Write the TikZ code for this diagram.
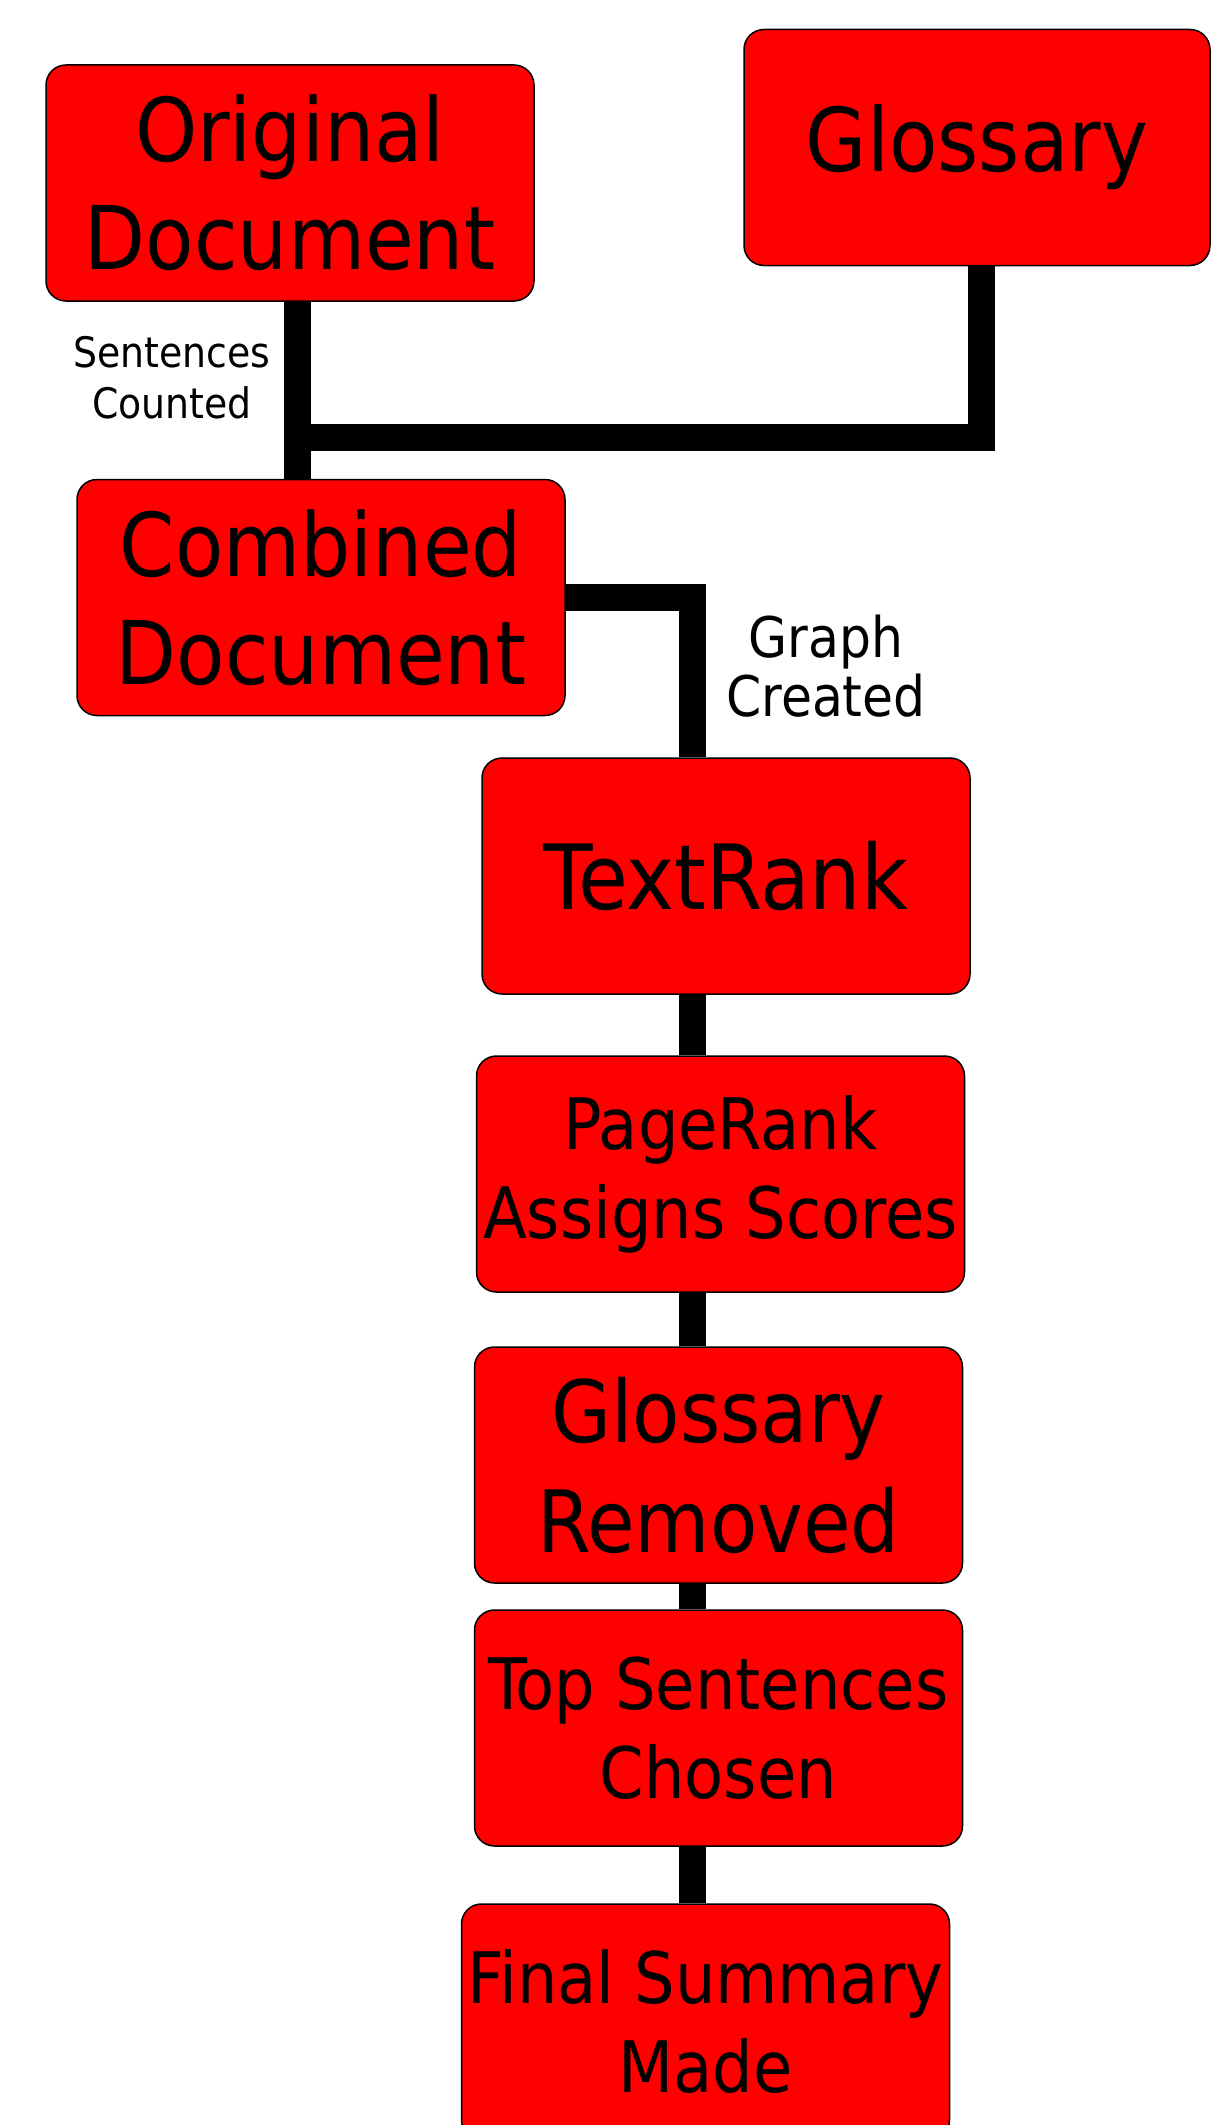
\documentclass[tikz,border=0pt]{standalone}
\usepackage{fontspec}
\setmainfont{DejaVu Sans Condensed}
\usetikzlibrary{backgrounds}
\begin{document}
\begin{tikzpicture}[x=1pt,y=-1pt,
  stage/.style={draw=black, line width=1.5pt, fill=red, rounded corners=20pt,
    minimum width=488pt, minimum height=236pt, inner sep=0pt, align=center},
  bigtext/.style={font=\fontsize{88}{108}\selectfont},
  midtext/.style={font=\fontsize{71}{89}\selectfont},
  conn/.style={draw=black, line width=27pt, line cap=butt, line join=miter},
  steplabel/.style={inner sep=0pt, align=center}]
\useasboundingbox (0,0) rectangle (1211,2125);
\clip (0,0) rectangle (1211,2125);

% process boxes
\node[stage, bigtext] (orig) at (290,183) {Original\\Document};
\node[stage, bigtext, minimum width=466pt] (gloss) at (977,147.5) {Glossary};
\node[stage, bigtext] (comb) at (321,597.5) {Combined\\Document};
\node[stage, font=\fontsize{90}{108}\selectfont] (tr) at (726,876) {TextRank};
\node[stage, midtext] (pr) at (720.5,1174) {PageRank\\Assigns Scores};
\node[stage, font=\fontsize{86}{110}\selectfont] (grem) at (718.5,1465) {Glossary\\Removed};
\node[stage, midtext] (top) at (718.5,1728) {Top Sentences\\Chosen};
\node[stage, midtext] (fin) at (705.5,2022) {Final Summary\\Made};

% connector labels
\node[steplabel, font=\fontsize{42}{51}\selectfont] (lblcount) at (172,378) {Sentences\\Counted};
\node[steplabel, font=\fontsize{56}{59}\selectfont] (lblgraph) at (826,666) {Graph\\Created};

% guide columns for the connectors
\coordinate (ox) at (297,0);
\coordinate (gx) at (981,0);
\coordinate (jn) at (297,437.5);
\coordinate (tx) at (692,0);

\begin{pgfonlayer}{background}
  \draw[conn] (orig.south -| ox) -- (comb.north -| ox);
  \draw[conn] (gloss.south -| gx) |- (jn);
  \draw[conn] (comb.east) -| (tr.north -| tx);
  \draw[conn] (tr.south -| tx) -- (pr.north -| tx);
  \draw[conn] (pr.south -| tx) -- (grem.north -| tx);
  \draw[conn] (grem.south -| tx) -- (top.north -| tx);
  \draw[conn] (top.south -| tx) -- (fin.north -| tx);
\end{pgfonlayer}
\end{tikzpicture}
\end{document}
